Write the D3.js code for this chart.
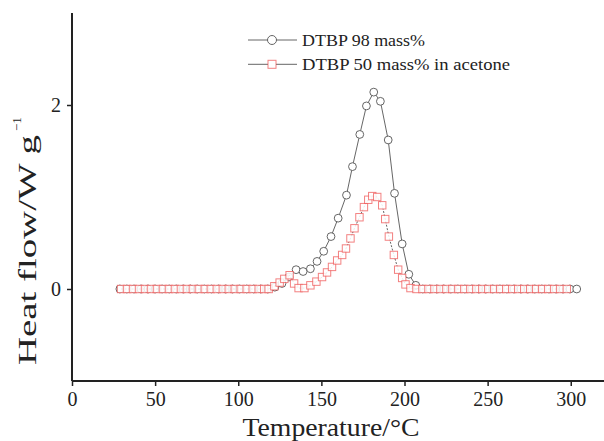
<!DOCTYPE html>
<html><head><meta charset="utf-8">
<script src="https://cdn.jsdelivr.net/npm/d3@7"></script>
<style>body{margin:0;background:#fff}svg{display:block}text{font-family:"Liberation Serif","Times New Roman",serif;fill:#222}</style>
</head><body><svg id="c" width="604" height="441"></svg>
<script>
const xTicks = [0, 50, 100, 150, 200, 250, 300];
const yTicks = [0, 2];
const seriesNames = ["DTBP 98 mass%", "DTBP 50 mass% in acetone"];
const blackT = [28.8, 33.0, 37.3, 41.5, 45.7, 50.0, 54.2, 58.5, 62.7, 66.9, 71.2, 75.4, 79.6, 83.9, 88.1, 92.4, 96.6, 100.8, 105.1, 109.3, 113.5,
  117.8, 122.0, 126.3, 130.5, 134.8, 139.0, 143.4, 147.4, 151.4, 155.8, 160.1, 165.1, 168.7, 173.1, 177.1, 181.5, 185.5, 190.2, 194.0, 198.6, 202.6,
  206.8, 211.0, 215.2, 219.4, 223.6, 227.9, 232.1, 236.3, 240.5, 244.7, 248.9, 253.1, 257.4, 261.6, 265.8, 270.0, 274.2, 278.4, 282.6, 286.9, 291.1, 295.3, 299.5, 303.6];
const blackV = [0, 0, 0, 0, 0, 0, 0, 0, 0, 0, 0, 0, 0, 0, 0, 0, 0, 0, 0, 0, 0,
  0.00, 0.02, 0.06, 0.13, 0.21, 0.19, 0.22, 0.30, 0.41, 0.57, 0.77, 1.02, 1.33, 1.68, 1.99, 2.14, 2.04, 1.62, 1.04, 0.49, 0.16,
  0.04, 0, 0, 0, 0, 0, 0, 0, 0, 0, 0, 0, 0, 0, 0, 0, 0, 0, 0, 0, 0, 0, 0, 0];
const redT = [29.5, 33.1, 36.7, 40.3, 43.9, 47.5, 51.1, 54.7, 58.3, 61.9, 65.5, 69.1, 72.7, 76.3, 79.9, 83.5, 87.1, 90.7, 94.3, 97.9, 101.5, 105.1, 108.7, 112.3, 115.6,
  118.3, 121.7, 124.9, 127.7, 130.9, 133.6, 136.3, 139.8, 143.4, 147.0, 150.4, 153.4, 156.4, 159.5, 162.5, 164.8, 167.5, 169.9, 172.9, 175.6, 178.2, 180.6, 183.6, 186.6, 188.4, 190.6, 193.6, 196.2, 198.6, 200.6, 203.6,
  207.2, 210.8, 214.4, 218.0, 221.6, 225.2, 228.8, 232.4, 236.0, 239.6, 243.2, 246.8, 250.4, 254.0, 257.6, 261.2, 264.8, 268.4, 272.0, 275.6, 279.2, 282.8, 286.4, 290.0, 293.6, 297.6];
const redV = [0, 0, 0, 0, 0, 0, 0, 0, 0, 0, 0, 0, 0, 0, 0, 0, 0, 0, 0, 0, 0, 0, 0, 0, 0,
  0.00, 0.03, 0.07, 0.11, 0.15, 0.06, 0.01, 0.01, 0.04, 0.08, 0.13, 0.18, 0.24, 0.31, 0.37, 0.44, 0.55, 0.66, 0.78, 0.89, 0.97, 1.01, 1.00, 0.91, 0.76, 0.57, 0.37, 0.21, 0.12, 0.05, 0.01,
  0, 0, 0, 0, 0, 0, 0, 0, 0, 0, 0, 0, 0, 0, 0, 0, 0, 0, 0, 0, 0, 0, 0, 0, 0, 0];

const svg = d3.select("#c");
const x = d3.scaleLinear().domain([0, 320]).range([72, 604]);
const y = d3.scaleLinear().domain([-1, 3]).range([381, 13]);

const blackData = blackT.map((t, i) => ({t, v: blackV[i]}));
const redData = redT.map((t, i) => ({t, v: redV[i]}));
const line = d3.line().x(d => x(d.t)).y(d => y(d.v));
const lineCol = "#555";
const sqCol = "#ee4b4b";
const sq = 7.4;

// black series
svg.append("path").datum(blackData).attr("d", line).attr("fill", "none").attr("stroke", lineCol).attr("stroke-width", 0.9);
svg.append("g").selectAll("circle").data(blackData).join("circle")
  .attr("cx", d => x(d.t)).attr("cy", d => y(d.v)).attr("r", 3.9)
  .attr("fill", "#fff").attr("stroke", "#555").attr("stroke-width", 0.9);
// red series
svg.append("path").datum(redData).attr("d", line).attr("fill", "none").attr("stroke", lineCol).attr("stroke-width", 0.9).attr("stroke-dasharray", "2,1.5");
svg.append("g").selectAll("rect").data(redData).join("rect")
  .attr("x", d => x(d.t) - sq / 2).attr("y", d => y(d.v) - sq / 2).attr("width", sq).attr("height", sq)
  .attr("fill", "#fff").attr("fill-opacity", 0.85).attr("stroke", sqCol).attr("stroke-opacity", 0.7).attr("stroke-width", 1);

// axes
const xAxis = svg.append("g").attr("transform", "translate(0,381)")
  .call(d3.axisBottom(x).tickValues(xTicks).tickSize(5).tickSizeOuter(0).tickPadding(6).tickFormat(d3.format("d")));
const yAxis = svg.append("g").attr("transform", "translate(72,0)")
  .call(d3.axisLeft(y).tickValues(yTicks).tickSize(5).tickSizeOuter(0).tickPadding(6).tickFormat(d3.format("d")));
[xAxis, yAxis].forEach(a => {
  a.select(".domain").attr("stroke", "#222").attr("stroke-width", 2);
  a.selectAll(".tick line").attr("stroke", "#222").attr("stroke-width", 1.5);
  a.selectAll(".tick text").attr("font-size", 20).attr("fill", "#222").attr("font-family", '"Liberation Serif", serif');
});
yAxis.select(".domain").attr("d", "M0,13V381");
xAxis.select(".domain").attr("d", "M72,0H604");

// axis titles
svg.append("text").attr("x", 331).attr("y", 436).attr("text-anchor", "middle").attr("font-size", 25)
  .attr("textLength", 177).attr("lengthAdjust", "spacingAndGlyphs").text("Temperature/°C");
svg.append("text").attr("transform", "translate(36,365) rotate(-90)").attr("font-size", 26)
  .attr("textLength", 230).attr("lengthAdjust", "spacingAndGlyphs").text("Heat flow/W g");
svg.append("text").attr("transform", "translate(21,131) rotate(-90)").attr("font-size", 13).text("−1");

// legend
const leg = svg.append("g");
seriesNames.forEach((name, i) => {
  const ly = 40 + i * 24.3;
  leg.append("line").attr("x1", 248).attr("x2", 297).attr("y1", ly).attr("y2", ly).attr("stroke", lineCol).attr("stroke-width", 0.9);
  if (i === 0) {
    leg.append("circle").attr("cx", 272).attr("cy", ly).attr("r", 4.5).attr("fill", "#fff").attr("stroke", "#555").attr("stroke-width", 0.9);
  } else {
    leg.append("rect").attr("x", 272 - 4).attr("y", ly - 4).attr("width", 8).attr("height", 8).attr("fill", "#fff").attr("stroke", sqCol).attr("stroke-opacity", 0.7);
  }
  leg.append("text").attr("x", 302).attr("y", ly + 5.5).attr("font-size", 17).attr("textLength", i === 0 ? 123 : 208).attr("lengthAdjust", "spacingAndGlyphs").text(name);
});
</script></body></html>
